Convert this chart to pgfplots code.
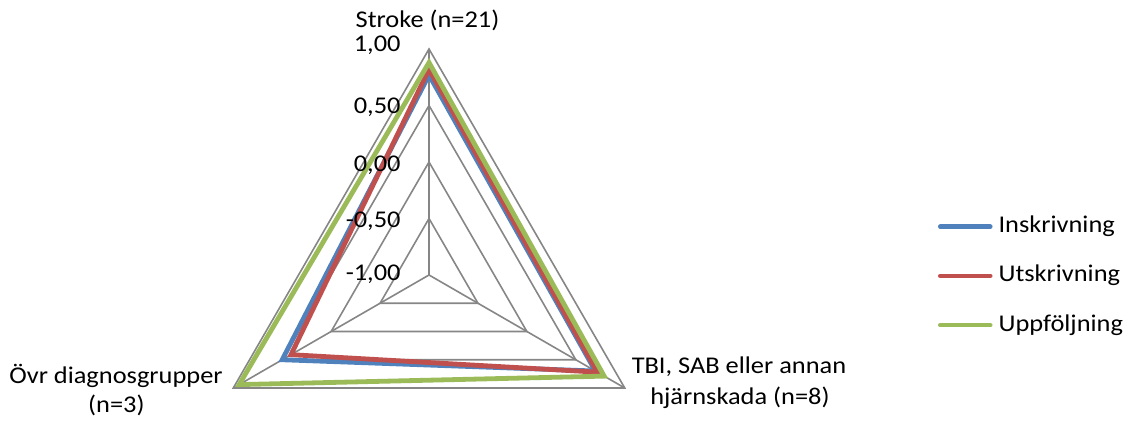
\documentclass[border=0pt]{standalone}
\usepackage{pgfplots}
\pgfplotsset{compat=1.18}
\usepackage{pgfplotstable}
\usepackage{fontspec}
\setmainfont{Carlito}[FakeStretch=1.1]

\definecolor{cblue}{RGB}{79,129,189}
\definecolor{cred}{RGB}{192,80,77}
\definecolor{cgreen}{RGB}{155,187,89}
\definecolor{cgrid}{RGB}{134,134,134}

% angle: Stroke = 90, TBI = 330, Ovr = 210 ; values on scale -1..1
\pgfplotstableread{
angle ins uts upp
90  0.77 0.82 0.88
330 0.70 0.72 0.79
210 0.50 0.41 0.94
}\radar

\pgfplotstableread{
angle a b c d
90  1 0.5 0 -0.5
330 1 0.5 0 -0.5
210 1 0.5 0 -0.5
}\gridtab

\pgfplotstableread{
angle v
90 -1
90 1
}\spokeA
\pgfplotstableread{
angle v
330 -1
330 1
}\spokeB
\pgfplotstableread{
angle v
210 -1
210 1
}\spokeC

\begin{document}
\begin{tikzpicture}[font=\fontsize{12pt}{15pt}\selectfont]
\begin{axis}[
  x=56.5pt, y=56.5pt,
  xmin=-3.7965, xmax=6.1681, ymin=-1.3009, ymax=2.4336,
  hide axis, clip=false,
  pol/.style={data cs=polar},
  gridline/.style={pol, cgrid, line width=0.8pt, forget plot},
  series/.style={pol, line width=2.4pt, line join=miter},
  legend cell align=left,
  legend image code/.code={\draw[#1, line width=2.3pt, line cap=round] (0pt,0pt) -- (25pt,0pt);},
  legend style={at={(axis cs:4.504,0.523)}, anchor=north west, draw=none, fill=none,
    inner sep=0pt, outer sep=0pt, row sep=13.8pt,
    nodes={inner sep=0pt, text height=8.4pt, text depth=2.4pt},
    /tikz/every odd column/.append style={column sep=3pt}},
]
% grid triangles
\addplot[gridline] table[x=angle, y expr=\thisrow{a}+1] {\gridtab} -- cycle;
\addplot[gridline] table[x=angle, y expr=\thisrow{b}+1] {\gridtab} -- cycle;
\addplot[gridline] table[x=angle, y expr=\thisrow{c}+1] {\gridtab} -- cycle;
\addplot[gridline] table[x=angle, y expr=\thisrow{d}+1] {\gridtab} -- cycle;
% spokes
\addplot[gridline] table[x=angle, y expr=\thisrow{v}+1] {\spokeA};
\addplot[gridline] table[x=angle, y expr=\thisrow{v}+1] {\spokeB};
\addplot[gridline] table[x=angle, y expr=\thisrow{v}+1] {\spokeC};
% data series
\addplot[series, cblue]  table[x=angle, y expr=\thisrow{ins}+1] {\radar} -- cycle;
\addlegendentry{Inskrivning}
\addplot[series, cred]   table[x=angle, y expr=\thisrow{uts}+1] {\radar} -- cycle;
\addlegendentry{Utskrivning}
\addplot[series, cgreen] table[x=angle, y expr=\thisrow{upp}+1] {\radar} -- cycle;
\addlegendentry{Uppföljning}
% tick labels
\node[inner sep=0pt, anchor=base east] at (axis cs:-0.248,1.976) {1,00};
\node[inner sep=0pt, anchor=base east] at (axis cs:-0.248,1.431) {0,50};
\node[inner sep=0pt, anchor=base east] at (axis cs:-0.248,0.920) {0,00};
\node[inner sep=0pt, anchor=base east] at (axis cs:-0.248,0.422) {-0,50};
\node[inner sep=0pt, anchor=base east] at (axis cs:-0.248,-0.050) {-1,00};
% category labels
\node[inner sep=0pt, anchor=base] at (axis cs:-0.013,2.186) {Stroke (n=21)};
\node[inner sep=0pt, anchor=base] at (axis cs:-2.770,-0.956) {Övr diagnosgrupper};
\node[inner sep=0pt, anchor=base] at (axis cs:-2.766,-1.221) {(n=3)};
\node[inner sep=0pt, anchor=base] at (axis cs:2.743,-0.876) {TBI, SAB eller annan};
\node[inner sep=0pt, anchor=base] at (axis cs:2.752,-1.150) {hjärnskada (n=8)};
\end{axis}
\pgfresetboundingbox
\useasboundingbox (current axis.south west) rectangle (current axis.north east);
\end{tikzpicture}
\end{document}
